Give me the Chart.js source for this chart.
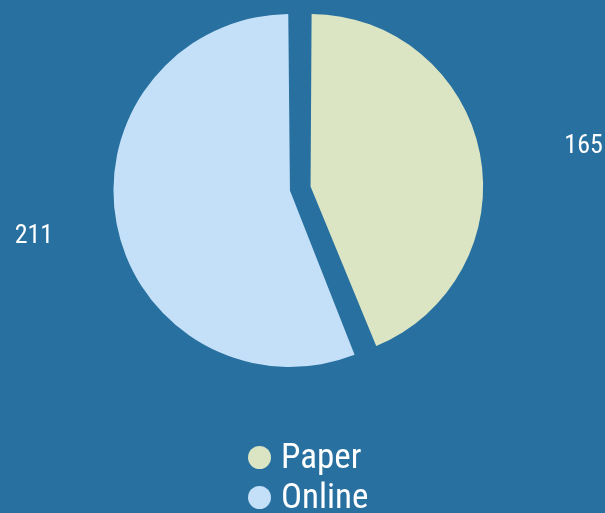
<!DOCTYPE html>
<html>
<head>
<meta charset="utf-8">
<script src="https://cdn.jsdelivr.net/npm/chart.js@4"></script>
<style>
  html, body { margin: 0; padding: 0; background: #27709f; overflow: hidden; }
  #wrap { position: relative; width: 605px; height: 513px; }
  #pie-legend { position: absolute; left: 248px; top: 437px; }
  #pie-legend ul { list-style: none; margin: 0; padding: 0; }
  #pie-legend li {
    display: flex; align-items: center; height: 40px;
    font-family: 'Roboto Condensed', 'Liberation Sans Narrow', Roboto, sans-serif;
    font-size: 35px; line-height: 40px; color: #ffffff; white-space: nowrap;
  }
  #pie-legend .dot { width: 23px; height: 23px; border-radius: 50%; margin-right: 10px; flex: none; }
</style>
</head>
<body>
<div id="wrap">
  <canvas id="pie-chart"></canvas>
  <div id="pie-legend"></div>
</div>
<script>
const categories = ['Paper', 'Online'];
const counts = [165, 211];
const sliceColors = ['#dbe5c3', '#c4e0f8'];

const FONT = "'Roboto Condensed', 'Liberation Sans Narrow', Roboto, sans-serif";

// value labels sit outside the pie, on an ellipse around the middle of each slice
const outsideLabels = {
	id: 'outsideLabels',
	afterDatasetsDraw(chart) {
		const c = chart.ctx;
		const meta = chart.getDatasetMeta(0);
		c.save();
		c.font = '26px ' + FONT;
		c.fillStyle = '#ffffff';
		c.textAlign = 'center';
		c.textBaseline = 'middle';
		meta.data.forEach((arc, i) => {
			const mid = (arc.startAngle + arc.endAngle) / 2;
			const x = arc.x + 8.5 + Math.cos(mid) * 280;
			const y = arc.y + 3 + Math.sin(mid) * 233;
			c.fillText(String(counts[i]), x, y);
		});
		c.restore();
	}
};

// legend as a plain list under the pie, left aligned like the original
const htmlLegend = {
	id: 'htmlLegend',
	afterUpdate(chart) {
		const box = document.getElementById('pie-legend');
		box.innerHTML = '';
		const ul = document.createElement('ul');
		const items = chart.options.plugins.legend.labels.generateLabels(chart);
		items.forEach(item => {
			const li = document.createElement('li');
			const dot = document.createElement('span');
			dot.className = 'dot';
			dot.style.background = item.fillStyle;
			li.appendChild(dot);
			li.appendChild(document.createTextNode(item.text));
			ul.appendChild(li);
		});
		box.appendChild(ul);
	}
};

const ctx = document.getElementById('pie-chart').getContext('2d');

new Chart(ctx, {
	type: 'pie',
	data: {
		labels: categories,
		datasets: [{
			data: counts,
			backgroundColor: sliceColors,
			borderWidth: 0,
			offset: 42,
			radius: 166,
			clip: false,
		}],
	},
	options: {
		responsive: true,
		maintainAspectRatio: false,
		animation: false,
		layout: {
			padding: { left: 0, right: 4.5, top: 0, bottom: 136 },
		},
		plugins: {
			tooltip: { enabled: false },
			legend: { display: false },
		},
	},
	plugins: [outsideLabels, htmlLegend],
});
</script>
</body>
</html>
